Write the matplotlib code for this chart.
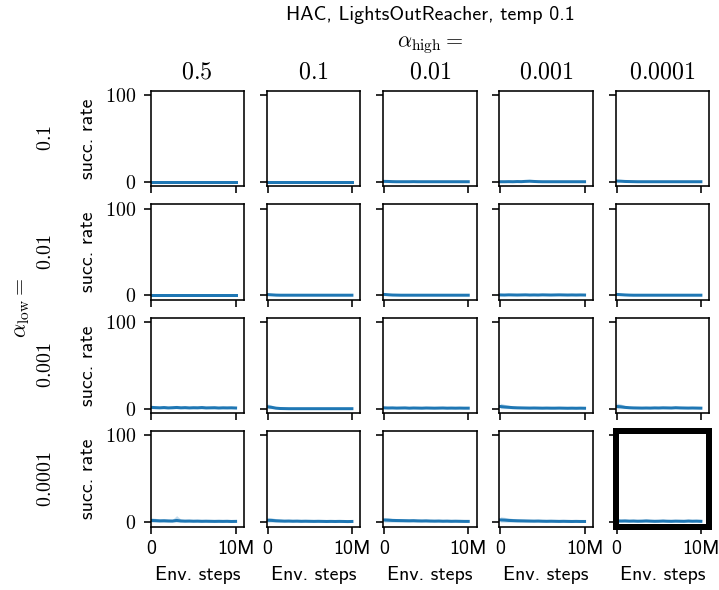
import numpy as np
import matplotlib.pyplot as plt
from matplotlib.ticker import FuncFormatter

plt.rcParams['font.family'] = 'cmss10'
plt.rcParams['mathtext.fontset'] = 'cm'
plt.rcParams['font.size'] = 10
plt.rcParams['axes.unicode_minus'] = False

title = 'HAC, LightsOutReacher, temp 0.1'
alpha_high = ['0.5', '0.1', '0.01', '0.001', '0.0001']
alpha_low = ['0.1', '0.01', '0.001', '0.0001']

# env steps, 0 .. 10M
steps = [0.0, 0.5e6, 1.0e6, 1.5e6, 2.0e6, 2.5e6, 3.0e6, 3.5e6, 4.0e6, 4.5e6, 5.0e6,
         5.5e6, 6.0e6, 6.5e6, 7.0e6, 7.5e6, 8.0e6, 8.5e6, 9.0e6, 9.5e6, 1.0e7]

# success rate (mean) per row alpha_low, one list per alpha_high column
mean_low_01 = [
    [0, 0, 0, 0, 0, 0, 0, 0, 0, 0, 0, 0, 0, 0, 0, 0, 0, 0, 0, 0, 0],
    [0, 0, 0, 0, 0, 0, 0, 0, 0, 0, 0, 0, 0, 0, 0, 0, 0, 0, 0, 0, 0],
    [0.4, 0.3, 0.1, 0, 0, 0, 0, 0.1, 0, 0, 0, 0, 0, 0, 0, 0, 0, 0, 0, 0, 0],
    [0, 0, 0.1, 0, 0.2, 0.1, 0.4, 0.6, 0.3, 0.1, 0, 0, 0, 0, 0, 0, 0, 0, 0, 0, 0],
    [0.8, 0.6, 0.3, 0.2, 0.1, 0, 0, 0, 0, 0, 0, 0, 0, 0, 0, 0, 0, 0, 0, 0, 0],
]
spread_low_01 = [
    [0, 0, 0, 0, 0, 0, 0, 0, 0, 0, 0, 0, 0, 0, 0, 0, 0, 0, 0, 0, 0],
    [0, 0, 0, 0, 0, 0, 0, 0, 0, 0, 0, 0, 0, 0, 0, 0, 0, 0, 0, 0, 0],
    [0.6, 0.4, 0.2, 0, 0, 0, 0, 0.2, 0, 0, 0, 0, 0, 0, 0, 0, 0, 0, 0, 0, 0],
    [0, 0, 0.2, 0, 0.3, 0.2, 0.6, 0.9, 0.5, 0.2, 0, 0, 0, 0, 0, 0, 0, 0, 0, 0, 0],
    [1.2, 0.9, 0.5, 0.3, 0.2, 0, 0, 0, 0, 0, 0, 0, 0, 0, 0, 0, 0, 0, 0, 0, 0],
]
mean_low_001 = [
    [0, 0, 0, 0, 0, 0, 0, 0, 0, 0, 0, 0, 0, 0, 0, 0, 0, 0, 0, 0, 0],
    [0.7, 0.4, 0.1, 0, 0, 0, 0, 0, 0, 0, 0, 0, 0, 0, 0, 0, 0, 0, 0, 0, 0],
    [0.9, 0.5, 0.2, 0.1, 0, 0, 0, 0, 0, 0, 0, 0, 0, 0, 0, 0, 0, 0, 0, 0, 0],
    [0.3, 0.2, 0.4, 0.3, 0.2, 0.3, 0.4, 0.2, 0.3, 0.2, 0.4, 0.3, 0.2, 0.3, 0.4, 0.3, 0.2, 0.3, 0.2, 0.3, 0.2],
    [0.9, 0.6, 0.3, 0.1, 0, 0, 0, 0, 0, 0, 0, 0, 0, 0, 0, 0, 0, 0, 0, 0, 0],
]
spread_low_001 = [
    [0, 0, 0, 0, 0, 0, 0, 0, 0, 0, 0, 0, 0, 0, 0, 0, 0, 0, 0, 0, 0],
    [1.0, 0.6, 0.2, 0, 0, 0, 0, 0, 0, 0, 0, 0, 0, 0, 0, 0, 0, 0, 0, 0, 0],
    [1.2, 0.7, 0.3, 0.2, 0, 0, 0, 0, 0, 0, 0, 0, 0, 0, 0, 0, 0, 0, 0, 0, 0],
    [0.5, 0.3, 0.6, 0.4, 0.3, 0.5, 0.6, 0.3, 0.4, 0.3, 0.6, 0.4, 0.3, 0.4, 0.6, 0.4, 0.3, 0.4, 0.3, 0.4, 0.3],
    [1.3, 0.9, 0.5, 0.2, 0, 0, 0, 0, 0, 0, 0, 0, 0, 0, 0, 0, 0, 0, 0, 0, 0],
]
mean_low_0001 = [
    [1.5, 1.2, 1.0, 1.3, 0.9, 1.1, 1.4, 1.0, 1.2, 0.9, 1.1, 1.0, 1.3, 0.9, 1.0, 1.1, 0.8, 1.0, 0.9, 1.0, 0.8],
    [2.2, 1.5, 0.6, 0.2, 0.1, 0, 0, 0, 0, 0, 0, 0, 0, 0, 0, 0, 0, 0, 0, 0, 0],
    [1.0, 0.8, 0.9, 0.7, 0.8, 0.9, 0.6, 0.8, 0.7, 0.6, 0.8, 0.7, 0.6, 0.7, 0.8, 0.6, 0.7, 0.6, 0.7, 0.6, 0.6],
    [2.5, 2.0, 1.6, 1.2, 1.0, 0.9, 0.8, 0.7, 0.8, 0.7, 0.6, 0.7, 0.6, 0.6, 0.7, 0.6, 0.5, 0.6, 0.5, 0.6, 0.5],
    [2.6, 2.2, 1.5, 1.1, 0.9, 0.8, 0.7, 0.8, 0.7, 0.9, 0.8, 1.0, 0.9, 0.8, 1.1, 0.9, 0.8, 0.7, 0.8, 0.7, 0.6],
]
spread_low_0001 = [
    [2.5, 2.0, 1.5, 2.2, 1.4, 1.8, 2.4, 1.6, 2.0, 1.5, 1.8, 1.6, 2.1, 1.4, 1.6, 1.8, 1.3, 1.6, 1.4, 1.5, 1.2],
    [3.5, 2.4, 1.0, 0.4, 0.2, 0, 0, 0, 0, 0, 0, 0, 0, 0, 0, 0, 0, 0, 0, 0, 0],
    [1.5, 1.2, 1.4, 1.0, 1.2, 1.3, 0.9, 1.2, 1.0, 0.9, 1.2, 1.0, 0.9, 1.0, 1.2, 0.9, 1.0, 0.9, 1.0, 0.9, 0.9],
    [3.8, 3.0, 2.4, 1.8, 1.5, 1.3, 1.2, 1.0, 1.2, 1.0, 0.9, 1.0, 0.9, 0.9, 1.0, 0.9, 0.8, 0.9, 0.8, 0.9, 0.8],
    [3.9, 3.2, 2.2, 1.6, 1.3, 1.2, 1.0, 1.2, 1.0, 1.3, 1.2, 1.5, 1.3, 1.2, 1.6, 1.3, 1.2, 1.0, 1.2, 1.0, 0.9],
]
mean_low_00001 = [
    [2.0, 1.8, 1.5, 1.6, 1.4, 1.3, 2.0, 1.4, 1.2, 1.3, 1.1, 1.2, 1.0, 1.1, 1.0, 0.9, 1.0, 0.9, 1.0, 0.8, 0.9],
    [2.2, 2.0, 1.6, 1.4, 1.2, 1.3, 1.1, 1.2, 1.0, 1.1, 1.0, 0.9, 1.0, 0.9, 0.8, 0.9, 0.8, 0.9, 0.8, 0.7, 0.8],
    [2.5, 2.3, 2.0, 1.9, 1.8, 1.7, 1.6, 1.7, 1.5, 1.4, 1.5, 1.3, 1.2, 1.3, 1.1, 1.2, 1.0, 1.1, 1.0, 0.9, 0.9],
    [2.6, 2.4, 2.0, 1.8, 1.6, 1.5, 1.4, 1.3, 1.2, 1.3, 1.1, 1.0, 1.1, 1.0, 0.9, 1.0, 0.9, 0.8, 0.9, 0.8, 0.8],
    [1.5, 1.3, 1.4, 1.2, 1.3, 1.1, 1.2, 1.4, 1.2, 1.0, 1.1, 1.3, 1.1, 1.0, 1.2, 1.1, 1.0, 1.3, 1.1, 1.2, 1.0],
]
spread_low_00001 = [
    [3.0, 2.6, 2.0, 2.4, 2.0, 1.8, 5.5, 2.0, 1.6, 1.8, 1.5, 1.6, 1.4, 1.5, 1.4, 1.2, 1.4, 1.2, 1.3, 1.1, 1.2],
    [3.4, 3.0, 2.4, 2.0, 1.6, 1.8, 1.5, 1.6, 1.4, 1.5, 1.4, 1.2, 1.4, 1.2, 1.1, 1.2, 1.1, 1.2, 1.1, 1.0, 1.1],
    [3.0, 2.8, 2.4, 2.3, 2.2, 2.0, 1.9, 2.0, 1.8, 1.7, 1.8, 1.6, 1.5, 1.6, 1.4, 1.5, 1.3, 1.4, 1.3, 1.2, 1.2],
    [3.6, 3.2, 2.8, 2.4, 2.2, 2.0, 1.9, 1.8, 1.6, 1.8, 1.5, 1.4, 1.5, 1.4, 1.3, 1.4, 1.3, 1.2, 1.3, 1.2, 1.2],
    [2.4, 2.0, 2.2, 1.8, 2.0, 1.7, 1.8, 2.3, 1.8, 1.5, 1.7, 2.1, 1.7, 1.5, 1.9, 1.7, 1.5, 2.0, 1.7, 1.8, 1.5],
]

means = [mean_low_01, mean_low_001, mean_low_0001, mean_low_00001]
spreads = [spread_low_01, spread_low_001, spread_low_0001, spread_low_00001]

W, H = 719, 590
fig = plt.figure(figsize=(W / 144, H / 144), dpi=144)
axes = fig.subplots(4, 5, sharex=True, sharey=True)
fig.subplots_adjust(left=150.5 / W, right=709.3 / W, top=1 - 90.7 / H,
                    bottom=1 - 526.5 / H, wspace=0.244, hspace=0.19)

x = np.array(steps)
for i in range(4):
    for j in range(5):
        ax = axes[i, j]
        m = np.array(means[i][j])
        s = np.array(spreads[i][j])
        ax.fill_between(x, np.clip(m - s, 0, None), m + s, color='#1f77b4', alpha=0.25, lw=0)
        ax.plot(x, m, color='#1f77b4', lw=1.5)
        if i == 0:
            ax.set_title('$%s$' % alpha_high[j])
        if j == 0:
            ax.set_ylabel('succ. rate')
        if i == 3:
            ax.set_xlabel('Env. steps')

ax = axes[0, 0]
ax.set_xlim(-0.1e6, 11.0e6)
ax.set_ylim(-5, 105)
ax.set_xticks([0, 1e7])
ax.set_yticks([0, 100])
ax.xaxis.set_major_formatter(FuncFormatter(lambda v, p: '0' if v == 0 else '%dM' % (v / 1e6)))
ax.yaxis.set_major_formatter(FuncFormatter(lambda v, p: '$%d$' % v))

# highlight last panel
for sp in axes[3, 4].spines.values():
    sp.set_linewidth(3)

# row labels
for i in range(4):
    pos = axes[i, 0].get_position()
    fig.text(46 / W, (pos.y0 + pos.y1) / 2, '$%s$' % alpha_low[i],
             rotation=90, ha='center', va='center')

cx = (150.5 + 709.3) / 2 / W
fig.text(cx, 1 - 15 / H, title, ha='center', va='center', fontsize=10)
fig.text(cx, 1 - 45 / H, r'$\alpha_{\rm high} =$', ha='center', va='center', fontsize=11)
fig.text(22 / W, 1 - 308 / H, r'$\alpha_{\rm low} =$', ha='center', va='center',
         rotation=90, fontsize=11)

fig.savefig('out.png', dpi=144)
